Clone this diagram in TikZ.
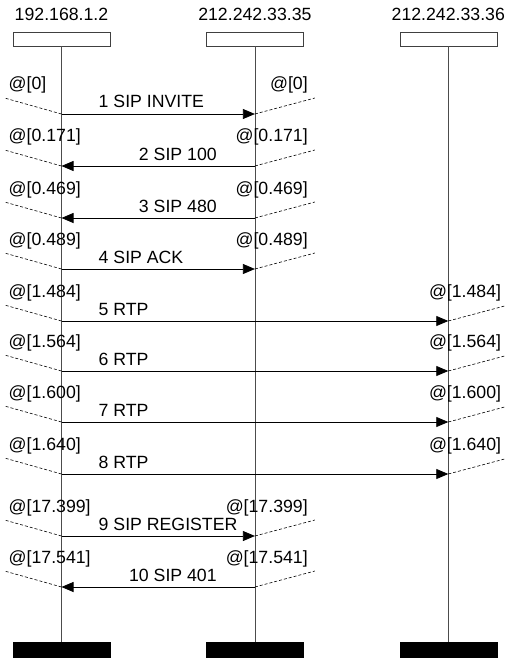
\documentclass[tikz,border=0pt]{standalone}
\usepackage{fontspec}
\setmainfont{Liberation Sans}
\usetikzlibrary{arrows.meta,positioning}
\tikzset{head/.style = {draw=black!75, fill=white, rectangle, inner sep=0pt, minimum height = 14pt, minimum width = 97pt},
         foot/.style = {draw, fill=black, rectangle, inner sep=0pt, minimum height = 16pt, minimum width = 97pt},
         life/.style = {draw=black!70, line width=0.8pt},
         msg/.style = {-{Triangle[length=12pt,width=10pt]}, line width=0.8pt},
         tick/.style = {dashed, dash pattern=on 3pt off 2pt, line width=0.6pt},
         lblr/.style = {anchor=base west, inner sep=0pt},
         lbll/.style = {anchor=base east, inner sep=0pt},
         stampl/.style = {anchor=base west, inner sep=0pt},
         stampr/.style = {anchor=base east, inner sep=0pt},
}
\begin{document}
\begin{tikzpicture}[x=1pt, y=-1pt, node distance = 96pt, font=\fontsize{17.7}{20}\selectfont]
  \useasboundingbox (0,0) rectangle (504,658);

  % hosts
  \node[head] (caller) at (61.5,39) {};
  \node[head, right = of caller] (proxy) {};
  \node[head, right = of proxy] (callee) {};
  \node[anchor=base] (callerip) at ([yshift=11pt]caller.north) {192.168.1.2};
  \node[anchor=base] (proxyip) at ([yshift=11pt]proxy.north) {212.242.33.35};
  \node[anchor=base] (calleeip) at ([yshift=11pt]callee.north) {212.242.33.36};
  \node[foot] (callerend) at (caller |- 0,650) {};
  \node[foot] (proxyend) at (proxy |- 0,650) {};
  \node[foot] (calleeend) at (callee |- 0,650) {};
  \draw[life] (caller.south) -- (callerend.north);
  \draw[life] (proxy.south) -- (proxyend.north);
  \draw[life] (callee.south) -- (calleeend.north);

  % 1 SIP INVITE
  \coordinate (c1) at (caller |- 0,114); \coordinate (p1) at (proxy |- 0,114);
  \draw[msg] (c1) -- (p1);
  \node[lblr] (m1) at ([shift={(37,-6)}]c1) {1 SIP INVITE};
  \draw[tick] (c1) -- ++(-57,-16); \draw[tick] (p1) -- ++(60,-16);
  \node[stampl] (s1c) at ([shift={(-53,-24)}]c1) {@[0]};
  \node[stampr] (s1p) at ([shift={(53,-24)}]p1) {@[0]};

  % 2 SIP 100
  \coordinate (c2) at (caller |- 0,166); \coordinate (p2) at (proxy |- 0,166);
  \draw[msg] (p2) -- (c2);
  \node[lbll] (m2) at ([shift={(-38,-6)}]p2) {2 SIP 100};
  \draw[tick] (c2) -- ++(-57,-16); \draw[tick] (p2) -- ++(60,-16);
  \node[stampl] (s2c) at ([shift={(-53,-24)}]c2) {@[0.171]};
  \node[stampr] (s2p) at ([shift={(53,-24)}]p2) {@[0.171]};

  % 3 SIP 480
  \coordinate (c3) at (caller |- 0,218); \coordinate (p3) at (proxy |- 0,218);
  \draw[msg] (p3) -- (c3);
  \node[lbll] (m3) at ([shift={(-38,-6)}]p3) {3 SIP 480};
  \draw[tick] (c3) -- ++(-57,-16); \draw[tick] (p3) -- ++(60,-16);
  \node[stampl] (s3c) at ([shift={(-53,-24)}]c3) {@[0.469]};
  \node[stampr] (s3p) at ([shift={(53,-24)}]p3) {@[0.469]};

  % 4 SIP ACK
  \coordinate (c4) at (caller |- 0,269); \coordinate (p4) at (proxy |- 0,269);
  \draw[msg] (c4) -- (p4);
  \node[lblr] (m4) at ([shift={(37,-6)}]c4) {4 SIP ACK};
  \draw[tick] (c4) -- ++(-57,-16); \draw[tick] (p4) -- ++(60,-16);
  \node[stampl] (s4c) at ([shift={(-53,-24)}]c4) {@[0.489]};
  \node[stampr] (s4p) at ([shift={(53,-24)}]p4) {@[0.489]};

  % 5 RTP
  \coordinate (c5) at (caller |- 0,321); \coordinate (e5) at (callee |- 0,321);
  \draw[msg] (c5) -- (e5);
  \node[lblr] (m5) at ([shift={(37,-6)}]c5) {5 RTP};
  \draw[tick] (c5) -- ++(-57,-16); \draw[tick] (e5) -- ++(60,-16);
  \node[stampl] (s5c) at ([shift={(-53,-24)}]c5) {@[1.484]};
  \node[stampr] (s5e) at ([shift={(53,-24)}]e5) {@[1.484]};

  % 6 RTP
  \coordinate (c6) at (caller |- 0,371); \coordinate (e6) at (callee |- 0,371);
  \draw[msg] (c6) -- (e6);
  \node[lblr] (m6) at ([shift={(37,-6)}]c6) {6 RTP};
  \draw[tick] (c6) -- ++(-57,-16); \draw[tick] (e6) -- ++(60,-16);
  \node[stampl] (s6c) at ([shift={(-53,-24)}]c6) {@[1.564]};
  \node[stampr] (s6e) at ([shift={(53,-24)}]e6) {@[1.564]};

  % 7 RTP
  \coordinate (c7) at (caller |- 0,422); \coordinate (e7) at (callee |- 0,422);
  \draw[msg] (c7) -- (e7);
  \node[lblr] (m7) at ([shift={(37,-6)}]c7) {7 RTP};
  \draw[tick] (c7) -- ++(-57,-16); \draw[tick] (e7) -- ++(60,-16);
  \node[stampl] (s7c) at ([shift={(-53,-24)}]c7) {@[1.600]};
  \node[stampr] (s7e) at ([shift={(53,-24)}]e7) {@[1.600]};

  % 8 RTP
  \coordinate (c8) at (caller |- 0,474); \coordinate (e8) at (callee |- 0,474);
  \draw[msg] (c8) -- (e8);
  \node[lblr] (m8) at ([shift={(37,-6)}]c8) {8 RTP};
  \draw[tick] (c8) -- ++(-57,-16); \draw[tick] (e8) -- ++(60,-16);
  \node[stampl] (s8c) at ([shift={(-53,-24)}]c8) {@[1.640]};
  \node[stampr] (s8e) at ([shift={(53,-24)}]e8) {@[1.640]};

  % 9 SIP REGISTER
  \coordinate (c9) at (caller |- 0,536); \coordinate (p9) at (proxy |- 0,536);
  \draw[msg] (c9) -- (p9);
  \node[lblr] (m9) at ([shift={(37,-6)}]c9) {9 SIP REGISTER};
  \draw[tick] (c9) -- ++(-57,-16); \draw[tick] (p9) -- ++(60,-16);
  \node[stampl] (s9c) at ([shift={(-53,-24)}]c9) {@[17.399]};
  \node[stampr] (s9p) at ([shift={(53,-24)}]p9) {@[17.399]};

  % 10 SIP 401
  \coordinate (c10) at (caller |- 0,587); \coordinate (p10) at (proxy |- 0,587);
  \draw[msg] (p10) -- (c10);
  \node[lbll] (m10) at ([shift={(-38,-6)}]p10) {10 SIP 401};
  \draw[tick] (c10) -- ++(-57,-16); \draw[tick] (p10) -- ++(60,-16);
  \node[stampl] (s10c) at ([shift={(-53,-24)}]c10) {@[17.541]};
  \node[stampr] (s10p) at ([shift={(53,-24)}]p10) {@[17.541]};

\end{tikzpicture}
\end{document}
